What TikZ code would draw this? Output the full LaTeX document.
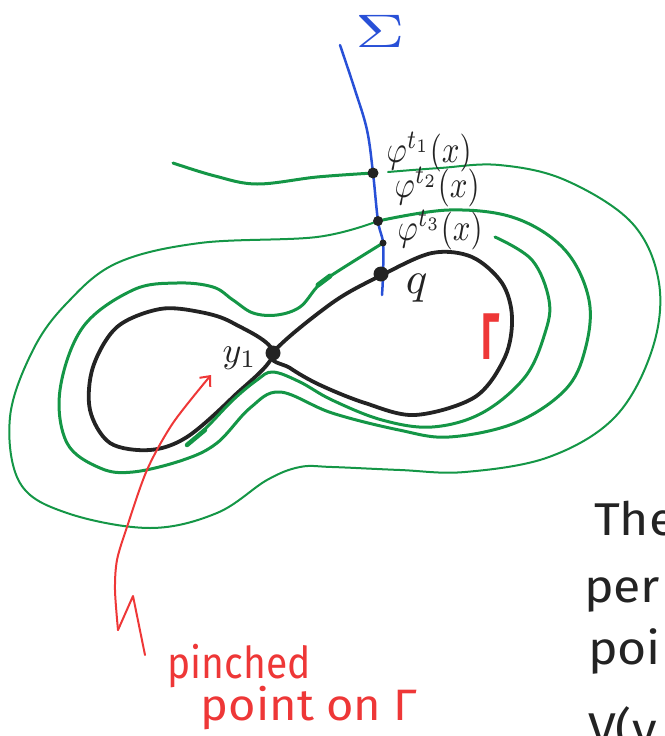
\documentclass[tikz,border=0pt]{standalone}
\usepackage{fontspec}
\setsansfont{Fira Sans}
\usetikzlibrary{arrows.meta}
\definecolor{gr}{RGB}{20,150,70}
\definecolor{bl}{RGB}{40,80,215}
\definecolor{rd}{RGB}{238,55,55}
\definecolor{ink}{RGB}{35,35,35}
\begin{document}
\begin{tikzpicture}[x=1pt,y=-1pt,
  gthick/.style={gr,line width=3pt,line cap=round,line join=round},
  gthin/.style={gr,line width=2pt,line cap=round,line join=round},
  blk/.style={ink,line width=3.8pt,line cap=round,line join=round},
  dotnode/.style={circle,fill=ink,inner sep=0pt,minimum size=#1},
  lab/.style={ink,inner sep=0pt,xscale=3.1,yscale=3.8,anchor=base west},
  hand/.style={font=\sffamily,inner sep=0pt,anchor=base west}]
\useasboundingbox (0,0) rectangle (664,736);
% Sigma section
\draw[bl,line width=2.5pt,line cap=round] plot[smooth,tension=0.6] coordinates {(340,45) (355,90) (367,130) (373,173) (378,221) (383,243) (383,275) (382,295)};
\node[bl,inner sep=0pt,xscale=6.8,yscale=4.7] (sigma) at (380,31) {$\Sigma$};
% figure eight Gamma
\draw[blk] plot[smooth cycle,tension=0.55] coordinates {(273,353) (233,323) (200,312) (160,309) (117,327) (93,367) (90,410) (110,443) (150,450) (187,437) (233,397)};
\draw[blk] plot[smooth cycle,tension=0.55] coordinates {(273,353) (332,303) (382,275) (432,253) (472,257) (502,283) (512,317) (505,357) (475,397) (415,415) (365,403) (320,385) (290,368)};
% green trajectory
\draw[gthick] plot[smooth,tension=0.6] coordinates {(173,163) (215,176) (257,184) (317,177) (373,173)};
\draw[gthin] plot[smooth,tension=0.6] coordinates {(388,172) (440,168) (499,165) (565,180) (632,223) (659,283) (652,350) (615,417) (549,457) (465,472) (400,470) (332,467) (300,467) (267,480) (217,513) (150,528) (67,513) (20,483) (10,417) (33,350) (67,303) (117,263) (200,243) (317,237) (378,221)};
\draw[gthick] plot[smooth,tension=0.6] coordinates {(378,221) (449,210) (515,218) (565,250) (589,300) (585,350) (565,390) (515,423) (449,437) (399,430) (332,413) (280,392) (250,408) (217,443) (183,460) (133,472) (100,468) (67,443) (60,390) (83,327) (133,290) (177,283) (213,287) (233,300) (253,313) (277,315) (300,307) (317,287) (332,275) (383,243)};
\draw[gthick] plot[smooth,tension=0.6] coordinates {(495,237) (532,260) (549,300) (545,333) (525,377) (482,413) (432,427) (382,420) (332,400) (300,382) (273,372) (257,380) (233,400) (207,427) (187,445)};
\draw[gr,line width=5pt,line cap=round] (318,285) -- (330,276);
\draw[gr,line width=4.5pt,line cap=round] (187,445) -- (205,430);
% points
\node[dotnode=11pt] (p1) at (373,173) {};
\node[dotnode=10pt] (p2) at (378,221) {};
\node[dotnode=7pt] (p3) at (383,243) {};
\node[dotnode=15pt] (q) at (381,274) {};
\node[dotnode=15pt] (y1) at (273,353) {};
% labels
\node[lab] (l1) at (386,162) {$\varphi^{t_1}(x)$};
\node[lab] (l2) at (394,197) {$\varphi^{t_2}(x)$};
\node[lab] (l3) at (397,240) {$\varphi^{t_3}(x)$};
\node[ink,inner sep=0pt,scale=4.5,anchor=base west] (ql) at (405,293) {$q$};
\node[ink,inner sep=0pt,scale=3.6,anchor=base west] (yl) at (222,362) {$y_1$};
\node[rd,inner sep=0pt,xscale=3.6,yscale=6.6,font=\sffamily\bfseries] (gam) at (491,337) {Γ};
% red arrow
\draw[rd,line width=2pt,line cap=round,line join=round,-{Straight Barb[length=8pt,width=14pt]}] plot[smooth,tension=0.5] coordinates {(118,630) (115,590) (117,560) (127,527) (147,470) (173,423) (211,375)};
\draw[rd,line width=2pt,line cap=round,line join=round] (118,630) -- (133,596) -- (145,655);
\node[hand,rd,xscale=3.9,yscale=4.4] (pinched) at (167,678) {pinched};
\node[hand,rd,xscale=4.7,yscale=4.4] (point) at (200,720) {point on Γ};
% clipped side text
\begin{scope}
\clip (0,0) rectangle (664,736);
\node[hand,ink,xscale=5,yscale=4.6] (t1) at (593,535) {The};
\node[hand,ink,xscale=5,yscale=4.6] (t2) at (583,602) {per};
\node[hand,ink,xscale=5,yscale=4.6] (t3) at (587,664) {poi};
\node[hand,ink,xscale=5,yscale=4.6] (t4) at (587,745) {V(y};
\end{scope}
\end{tikzpicture}
\end{document}
